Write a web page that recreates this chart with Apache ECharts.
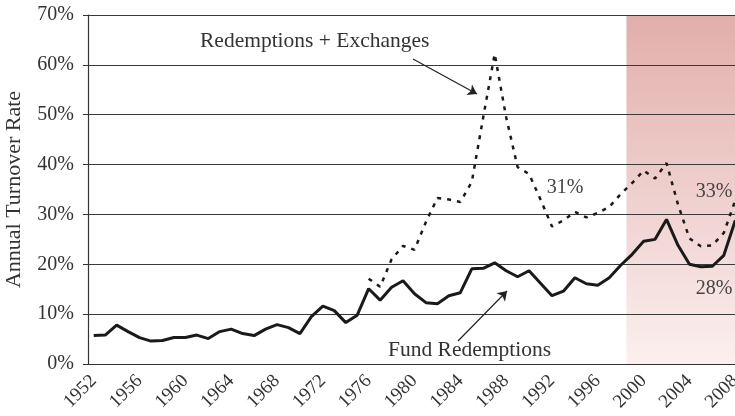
<!DOCTYPE html>
<html>
<head>
<meta charset="utf-8">
<script src="https://cdn.jsdelivr.net/npm/echarts@6/dist/echarts.min.js"></script>
<style>
  html, body { margin: 0; padding: 0; background: #fff; }
  #main { width: 735px; height: 416px; }
</style>
</head>
<body>
<div id="main"></div>
<script>
// years on the x axis
var years = [
  '1952', '1953', '1954', '1955', '1956', '1957', '1958', '1959', '1960', '1961',
  '1962', '1963', '1964', '1965', '1966', '1967', '1968', '1969', '1970', '1971',
  '1972', '1973', '1974', '1975', '1976', '1977', '1978', '1979', '1980', '1981',
  '1982', '1983', '1984', '1985', '1986', '1987', '1988', '1989', '1990', '1991',
  '1992', '1993', '1994', '1995', '1996', '1997', '1998', '1999', '2000', '2001',
  '2002', '2003', '2004', '2005', '2006', '2007', '2008'
];

// Fund Redemptions (solid), % per year
var fundRedemptions = [
  5.7, 5.8, 7.8, 6.5, 5.3, 4.6, 4.7, 5.3, 5.3, 5.8,
  5.1, 6.5, 7.0, 6.1, 5.7, 7.0, 7.9, 7.3, 6.1, 9.5,
  11.6, 10.7, 8.3, 9.8, 15.1, 12.8, 15.4, 16.7, 14.1, 12.3,
  12.1, 13.7, 14.3, 19.1, 19.2, 20.3, 18.7, 17.5, 18.7, 16.2,
  13.7, 14.6, 17.3, 16.1, 15.8, 17.3, 19.8, 22.0, 24.6, 25.0,
  29.0, 23.8, 20.0, 19.5, 19.6, 21.8, 28.8
];

// Redemptions + Exchanges (dotted), starts in 1976
var redemptionsExchanges = [
  null, null, null, null, null, null, null, null, null, null,
  null, null, null, null, null, null, null, null, null, null,
  null, null, null, null, 17.1, 15.5, 21.0, 23.7, 22.9, 28.5,
  33.3, 33.0, 32.5, 36.5, 49.5, 62.2, 49.5, 39.5, 38.1, 33.0,
  27.6, 28.8, 30.5, 29.4, 30.3, 31.5, 34.1, 36.3, 38.8, 37.2,
  40.3, 32.0, 25.2, 23.6, 23.8, 26.3, 32.8
];

// shaded period (whole years)
var shadeFrom = '1999';
var shadeTo = '2008';

var serif = '"Liberation Serif", "DejaVu Serif", serif';
var chart = echarts.init(document.getElementById('main'));

var shadeColor = new echarts.graphic.LinearGradient(0, 0, 0, 1, [
  { offset: 0, color: '#e2aeaa' },
  { offset: 1, color: '#fbf0ef' }
]);

var option = {
  animation: false,
  grid: { left: 88, top: 15, width: 653, height: 349, outerBoundsMode: 'none' },
  xAxis: {
    type: 'category',
    data: years,
    boundaryGap: true,
    z: 2,
    axisLine: { lineStyle: { color: '#333', width: 1.2 } },
    axisTick: { interval: 0, length: 6, lineStyle: { color: '#333' } },
    axisLabel: {
      interval: 3,
      rotate: 45,
      margin: 14,
      color: '#333',
      fontFamily: serif,
      fontSize: 19
    },
    splitLine: { show: false }
  },
  yAxis: {
    type: 'value',
    min: 0,
    max: 70,
    interval: 10,
    z: 2,
    name: 'Annual Turnover Rate',
    nameLocation: 'middle',
    nameGap: 63,
    nameTextStyle: { color: '#333', fontFamily: serif, fontSize: 22 },
    axisLine: { show: true, lineStyle: { color: '#333', width: 1.2 } },
    axisTick: { show: true, length: 5, lineStyle: { color: '#333' } },
    axisLabel: {
      formatter: '{value}%',
      margin: 14,
      color: '#333',
      fontFamily: serif,
      fontSize: 20
    },
    splitLine: { lineStyle: { color: '#3a3a3a', width: 1 } }
  },
  series: [
    {
      name: 'Fund Redemptions',
      type: 'line',
      data: fundRedemptions,
      symbol: 'none',
      lineStyle: { color: '#1a1a1a', width: 3 },
      markLine: {
        silent: true,
        symbol: ['none', 'arrow'],
        symbolSize: 9,
        label: { show: false },
        lineStyle: { color: '#222', width: 1.2, type: 'solid' },
        data: [
          [{ x: 413, y: 59 }, { x: 477, y: 94 }],
          [{ x: 458, y: 341 }, { x: 507, y: 291 }]
        ]
      }
    },
    {
      name: 'Redemptions + Exchanges',
      type: 'line',
      data: redemptionsExchanges,
      symbol: 'none',
      lineStyle: { color: '#1a1a1a', width: 2.5, type: [4, 6] }
    }
  ],
  graphic: [
    { type: 'text', z: 10, x: 200, y: 41, style: { text: 'Redemptions + Exchanges', font: '21.5px ' + serif, fill: '#333', verticalAlign: 'middle' } },
    { type: 'text', z: 10, x: 388, y: 350, style: { text: 'Fund Redemptions', font: '21.5px ' + serif, fill: '#333', verticalAlign: 'middle' } },
    { type: 'text', z: 10, x: 565, y: 188, style: { text: '31%', font: '20px ' + serif, fill: '#444', align: 'center', verticalAlign: 'middle' } },
    { type: 'text', z: 10, x: 714, y: 192, style: { text: '33%', font: '20px ' + serif, fill: '#444', align: 'center', verticalAlign: 'middle' } },
    { type: 'text', z: 10, x: 714, y: 289, style: { text: '28%', font: '20px ' + serif, fill: '#444', align: 'center', verticalAlign: 'middle' } }
  ]
};

chart.setOption(option);

// shaded band: from the left edge of the first year's band to the right edge of the last
var i0 = years.indexOf(shadeFrom);
var i1 = years.indexOf(shadeTo);
var halfBand = (chart.convertToPixel({ xAxisIndex: 0 }, years[1]) - chart.convertToPixel({ xAxisIndex: 0 }, years[0])) / 2;
var x0 = chart.convertToPixel({ xAxisIndex: 0 }, years[i0]) - halfBand;
var x1 = chart.convertToPixel({ xAxisIndex: 0 }, years[i1]) + halfBand;
var yTop = chart.convertToPixel({ yAxisIndex: 0 }, 70);
var yBottom = chart.convertToPixel({ yAxisIndex: 0 }, 0);

chart.setOption({
  series: [{
    name: 'Fund Redemptions',
    markArea: {
      silent: true,
      z: 1,
      itemStyle: { color: shadeColor },
      data: [[{ x: x0, y: yTop }, { x: x1, y: yBottom }]]
    }
  }]
});
</script>
</body>
</html>
